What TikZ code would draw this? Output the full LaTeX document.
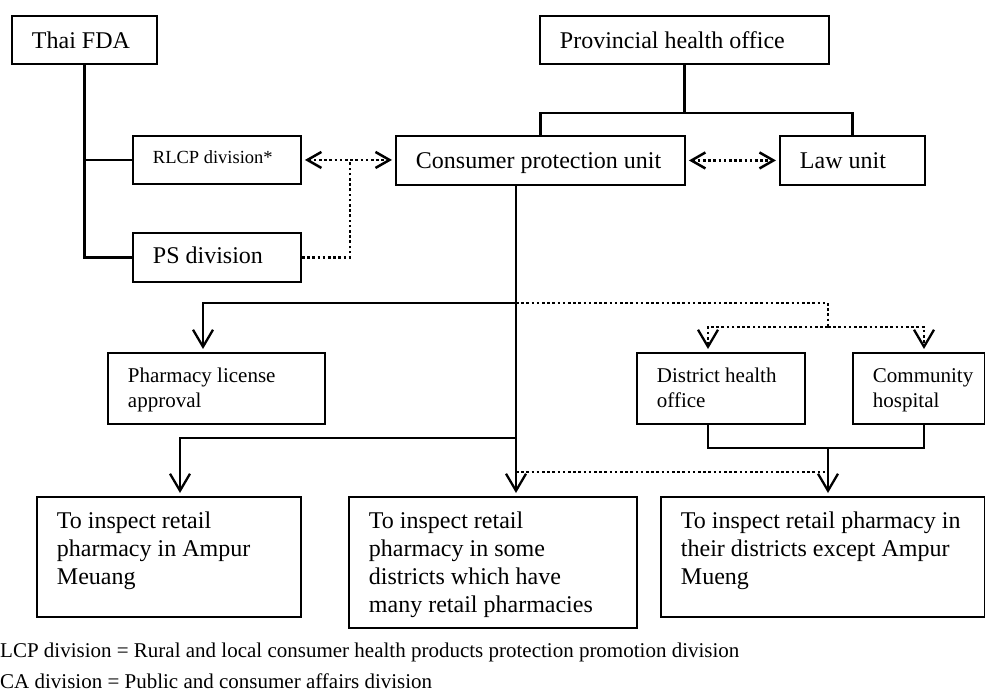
\documentclass[tikz,border=0pt]{standalone}
\usepackage{fontspec}
\setmainfont{Liberation Serif}
\usetikzlibrary{arrows.meta}

% font sizes used in the chart
\newcommand{\szbig}{\fontsize{24}{27.7}\selectfont}
\newcommand{\szmid}{\fontsize{21}{25}\selectfont}
\newcommand{\szrl}{\fontsize{18.5}{22}\selectfont}
\newcommand{\sznote}{\fontsize{21}{25}\selectfont}

% box body: width, height, first-baseline offset, text (left padded, top aligned)
\newcommand{\boxtext}[4]{\parbox[c][#2][t]{#1}{\raggedright\leftskip=20pt\relax\rule{0pt}{#3}#4}}

\tikzset{
  bx/.style={draw, line width=1.9pt, inner sep=0pt, anchor=north west},
  ln/.style={line width=2.1pt},
  dotl/.style={line width=2.6pt, dash pattern=on 2.6pt off 2.6pt},
  vtip/.tip={Straight Barb[length=17pt,width=20pt,line width=2.3pt]},
  dtip/.tip={Straight Barb[length=14pt,width=16pt,line width=2.5pt]},
  down/.style={-vtip, shorten >=3pt},
  both/.style={dtip-dtip, shorten >=3pt, shorten <=3pt},
}

\begin{document}
\begin{tikzpicture}[x=1pt,y=-1pt]
\useasboundingbox (0,0) rectangle (985,695);

% ---- boxes ----
\node[bx, font=\szbig] (fda)  at (11,15)   {\boxtext{145pt}{48pt}{33pt}{Thai FDA}};
\node[bx, font=\szbig] (pho)  at (539,15)  {\boxtext{289pt}{48pt}{33pt}{Provincial health office}};
\node[bx, font=\szrl]  (rlcp) at (132,135) {\boxtext{168pt}{48pt}{28pt}{RLCP division*}};
\node[bx, font=\szbig] (cpu)  at (395,135) {\boxtext{289pt}{49pt}{33pt}{Consumer protection unit}};
\node[bx, font=\szbig] (law)  at (779,135) {\boxtext{145pt}{49pt}{33pt}{Law unit}};
\node[bx, font=\szbig] (ps)   at (132,232) {\boxtext{168pt}{49pt}{31pt}{PS division}};
\node[bx, font=\szmid] (pla)  at (107,352) {\boxtext{217pt}{71pt}{30pt}{Pharmacy license\\approval}};
\node[bx, font=\szmid] (dho)  at (636,352) {\boxtext{168pt}{71pt}{30pt}{District health\\office}};
\node[bx, font=\szmid] (ch)   at (852,352) {\boxtext{132pt}{71pt}{30pt}{Community\\hospital}};
\node[bx, font=\szbig] (insp1) at (36,496)  {\boxtext{264pt}{120pt}{32pt}{To inspect retail\\pharmacy in Ampur\\Meuang}};
\node[bx, font=\szbig] (insp2) at (348,496) {\boxtext{288pt}{131pt}{32pt}{To inspect retail\\pharmacy in some\\districts which have\\many retail pharmacies}};
\node[bx, font=\szbig] (insp3) at (660,496) {\boxtext{324pt}{120pt}{32pt}{To inspect retail pharmacy in\\their districts except Ampur\\Mueng}};

% ---- Thai FDA branch ----
\draw[ln] (fda.south) |- (ps.west);
\draw[ln] (rlcp.west) -- (rlcp.west -| fda.south);

% ---- provincial health office branch ----
\draw[ln] (pho.south) -- ([yshift=-48pt]pho.south) coordinate (phoj);
\draw[ln] (cpu.north) |- (phoj);
\draw[ln] (law.north) |- (phoj);

% ---- coordination links ----
\draw[dotl, both] (rlcp.east) -- (rlcp.east -| cpu.west);
\coordinate (rj) at ([xshift=48pt]rlcp.east);
\draw[dotl] (ps.east) -| (rj);
\draw[dotl, both] (cpu.east) -- (cpu.east -| law.west);

% ---- consumer protection unit trunk ----
\coordinate (trunk) at (516,0);
\coordinate (b1) at (516,303);
\coordinate (b2) at (516,438);
\draw[ln, down] (cpu.south -| trunk) -- (insp2.north -| trunk);
\draw[ln, down] (b1) -| ([xshift=96pt]pla.north west);
\draw[ln, down] (b2) -| ([xshift=144pt]insp1.north west);

% ---- district level ----
\coordinate (dsplit) at (828,327);
\coordinate (dj) at (828,448);
\coordinate (dl) at (516,472);
\draw[dotl] (b1) -| (dsplit);
\draw[dotl, down] (dsplit) -| ([xshift=72pt]dho.north west);
\draw[dotl, down] (dsplit) -| ([xshift=72pt]ch.north west);
\draw[ln] ([xshift=72pt]dho.south west) |- (dj);
\draw[ln] ([xshift=72pt]ch.south west) |- (dj);
\draw[ln, down] (dj) -- (dj |- insp3.north);
\draw[dotl] (dl) -- (dl -| dj);

% ---- abbreviations ----
\node[anchor=base west, font=\sznote, inner sep=0pt] (note1) at (0,657)
  {LCP division = Rural and local consumer health products protection promotion division};
\node[anchor=base west, font=\sznote, inner sep=0pt] (note2) at (0,688)
  {CA division = Public and consumer affairs division};
\end{tikzpicture}
\end{document}
